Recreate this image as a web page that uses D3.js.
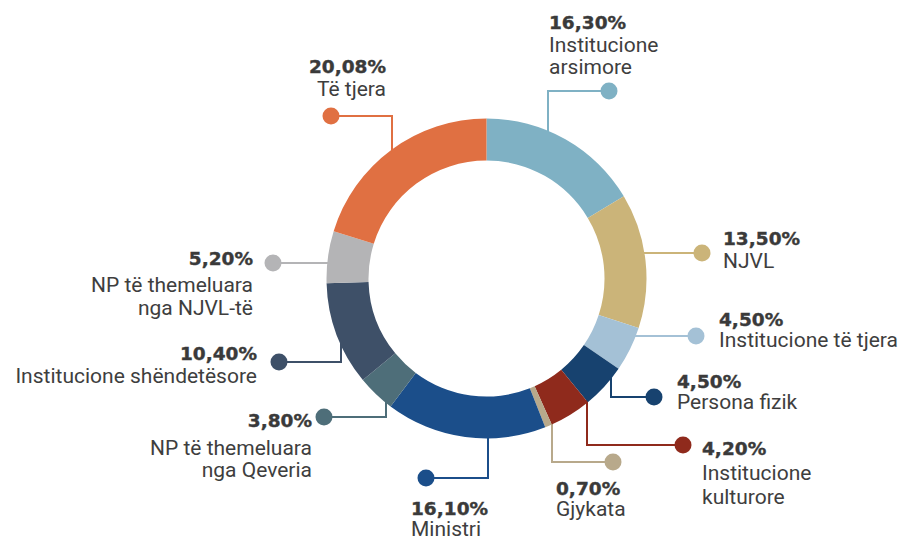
<!DOCTYPE html>
<html>
<head>
<meta charset="utf-8">
<script src="https://cdn.jsdelivr.net/npm/d3@7"></script>
<style>
  body { margin: 0; background: #fff; }
  .pct { font-family: "DejaVu Sans", sans-serif; font-weight: bold; font-size: 18.5px; fill: #3a3a3a; stroke: #3a3a3a; stroke-width: 0.4px; }
  .lbl { font-family: Roboto, sans-serif; font-size: 21px; fill: #3e3e3e; }
</style>
</head>
<body>
<div id="chart"></div>
<script>
// data, clockwise from the top
const categories = ["Institucione arsimore", "NJVL", "Institucione të tjera", "Persona fizik",
  "Institucione kulturore", "Gjykata", "Ministri", "NP të themeluara nga Qeveria",
  "Institucione shëndetësore", "NP të themeluara nga NJVL-të", "Të tjera"];
const values = [16.30, 13.50, 4.50, 4.50, 4.20, 0.70, 16.10, 3.80, 10.40, 5.20, 20.08];
const valueLabels = ["16,30%", "13,50%", "4,50%", "4,50%", "4,20%", "0,70%", "16,10%", "3,80%", "10,40%", "5,20%", "20,08%"];
const labelLines = [["Institucione", "arsimore"], ["NJVL"], ["Institucione të tjera"], ["Persona fizik"],
  ["Institucione", "kulturore"], ["Gjykata"], ["Ministri"], ["NP të themeluara", "nga Qeveria"],
  ["Institucione shëndetësore"], ["NP të themeluara", "nga NJVL-të"], ["Të tjera"]];
const colors = ["#7fb1c4", "#cbb479", "#a4c1d6", "#17426f", "#8f2a1c", "#b8a98b", "#1b4e8a",
  "#4e6e79", "#3e5068", "#b4b4b6", "#e07042"];

// layout for the callouts: dot, where the leader meets the ring (x for vertical, y for horizontal)
// text anchor and baselines
const callouts = [
  { dot: [609, 91],  vx: 548, tx: 549, anchor: "start", base: [29, 52, 74] },
  { dot: [702, 253], hy: 253, tx: 723, anchor: "start", base: [245, 268] },
  { dot: [696, 336], hy: 336, tx: 719, anchor: "start", base: [326, 347] },
  { dot: [654, 397], vx: 611, tx: 677, anchor: "start", base: [388, 409] },
  { dot: [683, 445], vx: 587, tx: 702, anchor: "start", base: [455, 480, 504] },
  { dot: [613, 462], vx: 552, tx: 556, anchor: "start", base: [495, 516] },
  { dot: [426, 478], vx: 488, tx: 411, anchor: "start", base: [515, 536] },
  { dot: [324, 417], vx: 386, tx: 312, anchor: "end", base: [427, 455, 477] },
  { dot: [279, 362], vx: 341, tx: 257, anchor: "end", base: [360, 383] },
  { dot: [273, 263], hy: 263, tx: 253, anchor: "end", base: [265, 292, 315] },
  { dot: [331, 116], vx: 392, tx: 386, anchor: "end", base: [73, 96] }
];

const w = 905, h = 542;
const cx = 486.5, cy = 278.5, rOut = 160, rIn = 118;

const svg = d3.select("#chart").append("svg")
  .attr("width", w)
  .attr("height", h);

const pie = d3.pie().sort(null).value(d => d);
const arc = d3.arc().innerRadius(rIn).outerRadius(rOut);
const arcs = pie(values);

// leader lines go under the ring
const leaders = svg.append("g");
callouts.forEach((c, i) => {
  let pts;
  if (c.vx !== undefined) {
    const dx = c.vx - cx;
    const dy = Math.sqrt(rOut * rOut - dx * dx);
    const ey = c.dot[1] < cy ? cy - dy + 4 : cy + dy - 4;
    pts = [c.dot, [c.vx, c.dot[1]], [c.vx, ey]];
  } else {
    const dy = c.hy - cy;
    const dx = Math.sqrt(rOut * rOut - dy * dy);
    const ex = c.dot[0] > cx ? cx + dx - 4 : cx - dx + 4;
    pts = [c.dot, [ex, c.hy]];
  }
  leaders.append("path")
    .attr("d", d3.line()(pts))
    .attr("fill", "none")
    .attr("stroke", colors[i])
    .attr("stroke-width", 2);
  leaders.append("circle")
    .attr("cx", c.dot[0])
    .attr("cy", c.dot[1])
    .attr("r", 8.5)
    .attr("fill", colors[i]);
});

svg.append("g")
  .attr("transform", `translate(${cx},${cy})`)
  .selectAll("path")
  .data(arcs)
  .enter()
  .append("path")
  .attr("d", arc)
  .attr("fill", (d, i) => colors[i]);

// labels
const labels = svg.append("g");
callouts.forEach((c, i) => {
  labels.append("text")
    .attr("class", "pct")
    .attr("x", c.tx)
    .attr("y", c.base[0])
    .attr("text-anchor", c.anchor)
    .text(valueLabels[i]);
  labelLines[i].forEach((line, j) => {
    labels.append("text")
      .attr("class", "lbl")
      .attr("x", c.tx)
      .attr("y", c.base[j + 1])
      .attr("text-anchor", c.anchor)
      .text(line);
  });
});
</script>
</body>
</html>
